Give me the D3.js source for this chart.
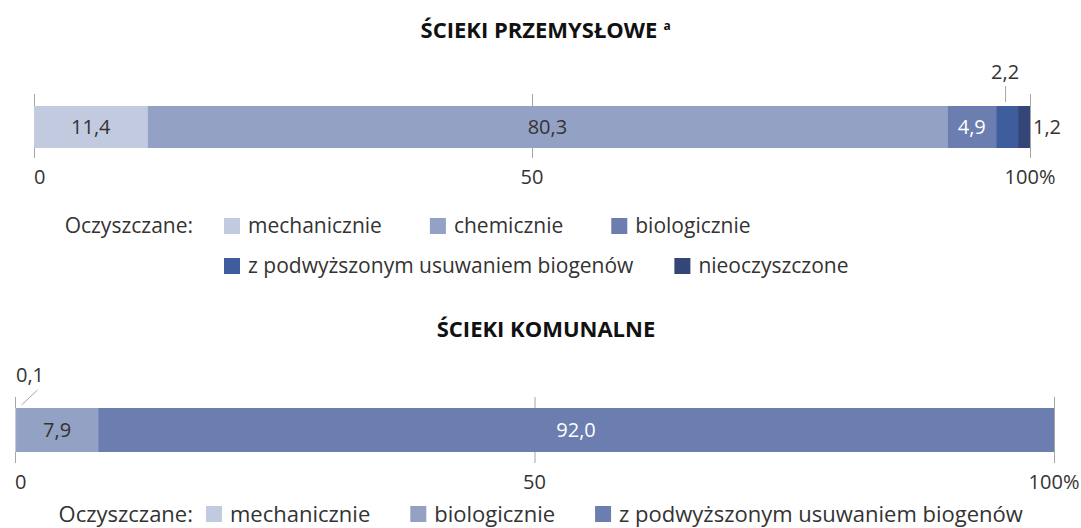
<!DOCTYPE html>
<html>
<head>
<meta charset="utf-8">
<script src="https://cdn.jsdelivr.net/npm/d3@7"></script>
<style>
  body { margin: 0; background: #fff; }
  svg { display: block; font-family: "Open Sans", "Noto Sans", sans-serif; }
</style>
</head>
<body>
<svg id="chart" width="1081" height="528"></svg>
<script>
//// DATA

// Industrial wastewater (top bar), shares in %
var topCategories = ["mechanicznie", "chemicznie", "biologicznie", "z podwyższonym usuwaniem biogenów", "nieoczyszczone"];
var topValues = [11.4, 80.3, 4.9, 2.2, 1.2];

// Municipal wastewater (bottom bar), shares in %
var bottomCategories = ["mechanicznie", "biologicznie", "z podwyższonym usuwaniem biogenów"];
var bottomValues = [0.1, 7.9, 92.0];

// Axis
var axisTicks = [0, 50, 100];
var tickLabels = ["0", "50", "100%"];

var legendTitle = "Oczyszczane:";

//// STYLE

var topColors = ["#c1cade", "#93a1c4", "#6b7eaf", "#3f5c9d", "#344677"];
var bottomColors = ["#c1cade", "#93a1c4", "#6b7eaf"];
var textColor = "#333333";

// Polish number format (comma as decimal sign)
var pl = d3.formatLocale({decimal: ",", thousands: " ", grouping: [3], currency: ["", " zł"]});
var fmt = pl.format(".1f");

var svg = d3.select("#chart");

//// MAIN

drawTitle(svg, "ŚCIEKI PRZEMYSŁOWE", "a", 539, 38);
drawBar(svg, {
    values: topValues, colors: topColors,
    x0: 34, x1: 1030, barTop: 106, barH: 42,
    tickTop: 94, tickBottom: 158, tickLabelY: 184
});
drawLegend(svg, {
    categories: topCategories, colors: topColors,
    labelEnd: 193, fontSize: 21, swatch: 16, swatchX: 224,
    rows: [{items: [0, 1, 2], y: 226, gap: 48}, {items: [3, 4], y: 266, gap: 41}]
});

drawTitle(svg, "ŚCIEKI KOMUNALNE", null, 546, 337);
drawBar(svg, {
    values: bottomValues, colors: bottomColors,
    x0: 15, x1: 1054, barTop: 408, barH: 44,
    tickTop: 397, tickBottom: 463, tickLabelY: 489
});
drawLegend(svg, {
    categories: bottomCategories, colors: bottomColors,
    labelEnd: 193, fontSize: 22, swatch: 16, swatchX: 206,
    rows: [{items: [0, 1, 2], y: 514, gap: 40}]
});


//// FUNCTIONS

/////////////////////////////////////////
// Bold centred title with optional note
function drawTitle(sel, text, note, cx, y) {
/////////////////////////////////////////
    var t = sel.append("text")
        .attr("x", cx)
        .attr("y", y)
        .attr("text-anchor", "middle")
        .attr("fill", "#111")
        .style("font-weight", "bold")
        .style("font-size", "22px")
        .text(text);
    if (note) {
        // superscript note is placed after the centred title
        var w = t.node().getComputedTextLength();
        sel.append("text")
            .attr("x", cx + w / 2 + 6)
            .attr("y", y - 8)
            .attr("fill", "#111")
            .style("font-weight", "bold")
            .style("font-size", "12px")
            .text(note);
    }
}

/////////////////////////////////////////
// One stacked 100% bar with its axis
function drawBar(sel, o) {
/////////////////////////////////////////
    var x = d3.scaleLinear().domain([0, 100]).range([o.x0, o.x1]);
    var g = sel.append("g");

    // tick lines go behind the bar
    g.selectAll("line.tick")
        .data(axisTicks)
        .enter().append("line")
        .attr("class", "tick")
        .attr("x1", function(d) { return x(d) + 0.5; })
        .attr("x2", function(d) { return x(d) + 0.5; })
        .attr("y1", o.tickTop)
        .attr("y2", o.tickBottom)
        .attr("stroke", "#a6a6a6")
        .attr("stroke-width", 1);

    g.selectAll("text.tickLabel")
        .data(axisTicks)
        .enter().append("text")
        .attr("class", "tickLabel")
        .attr("x", function(d) { return x(d); })
        .attr("y", o.tickLabelY)
        .attr("text-anchor", function(d, i) { return i == 0 ? "start" : "middle"; })
        .attr("fill", textColor)
        .style("font-size", "20px")
        .text(function(d, i) { return tickLabels[i]; });

    // stack the values
    var segs = [];
    var acc = 0;
    o.values.forEach(function(v, i) {
        segs.push({v: v, start: acc, end: acc + v, i: i});
        acc += v;
    });

    g.selectAll("rect.seg")
        .data(segs)
        .enter().append("rect")
        .attr("class", "seg")
        .attr("x", function(d) { return x(d.start); })
        .attr("y", o.barTop)
        .attr("width", function(d) { return x(d.end) - x(d.start); })
        .attr("height", o.barH)
        .attr("fill", function(d) { return o.colors[d.i]; });

    var midY = o.barTop + o.barH / 2;

    segs.forEach(function(d) {
        var w = x(d.end) - x(d.start);
        var cx = (x(d.start) + x(d.end)) / 2;
        var lab = g.append("text")
            .attr("fill", textColor)
            .style("font-size", "20px")
            .attr("dy", "0.35em")
            .text(fmt(d.v));

        if (w > 40) {
            // inside the segment
            var light = d3.lab(o.colors[d.i]).l < 60;
            lab.attr("x", cx).attr("y", midY)
                .attr("text-anchor", "middle")
                .attr("fill", light ? "#ffffff" : textColor);
        } else if (d.i == segs.length - 1) {
            // last thin segment: label to the right
            lab.attr("x", x(d.end) + 3).attr("y", midY)
                .attr("text-anchor", "start");
        } else if (d.i == 0) {
            // first thin segment: diagonal leader up right
            lab.attr("x", x(d.start) + 1).attr("y", o.barTop - 33)
                .attr("text-anchor", "start");
            g.append("line")
                .attr("x1", cx + 6).attr("y1", o.barTop - 3)
                .attr("x2", cx + 22).attr("y2", o.barTop - 18)
                .attr("stroke", "#a6a6a6");
        } else {
            // thin segment in the middle: label above
            lab.attr("x", cx - 2).attr("y", o.barTop - 34)
                .attr("text-anchor", "middle");
            g.append("line")
                .attr("x1", cx - 2 + 0.5).attr("x2", cx - 2 + 0.5)
                .attr("y1", o.barTop - 20).attr("y2", o.barTop - 4)
                .attr("stroke", "#a6a6a6");
        }
    });
}

/////////////////////////////////////////
// Legend in rows, flowing by text width
function drawLegend(sel, o) {
/////////////////////////////////////////
    var g = sel.append("g").style("font-size", o.fontSize + "px");

    g.append("text")
        .attr("x", o.labelEnd)
        .attr("y", o.rows[0].y)
        .attr("dy", "0.35em")
        .attr("text-anchor", "end")
        .attr("fill", textColor)
        .text(legendTitle);

    o.rows.forEach(function(row) {
        var cur = o.swatchX;
        row.items.forEach(function(idx) {
            g.append("rect")
                .attr("x", cur)
                .attr("y", row.y - o.swatch / 2)
                .attr("width", o.swatch)
                .attr("height", o.swatch)
                .attr("fill", o.colors[idx]);
            var t = g.append("text")
                .attr("x", cur + o.swatch + 8)
                .attr("y", row.y)
                .attr("dy", "0.35em")
                .attr("fill", textColor)
                .text(o.categories[idx]);
            cur = cur + o.swatch + 8 + t.node().getComputedTextLength() + row.gap;
        });
    });
}
</script>
</body>
</html>
